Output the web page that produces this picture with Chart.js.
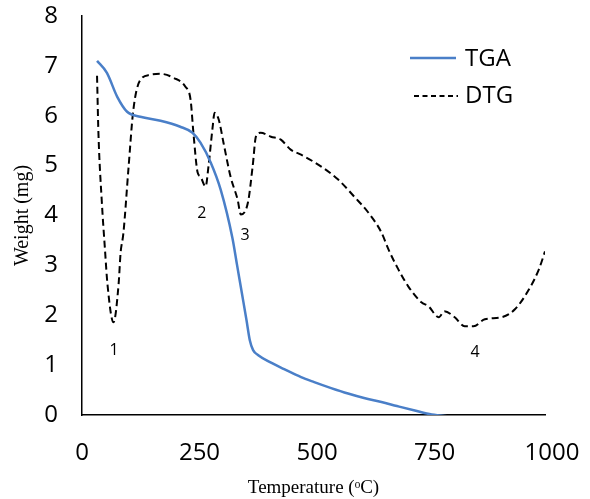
<!DOCTYPE html>
<html>
<head>
<meta charset="utf-8">
<script src="https://cdn.jsdelivr.net/npm/chart.js@4"></script>
<style>
  html, body { margin: 0; padding: 0; background: #fff; }
  #wrap { width: 590px; height: 499px; position: relative; }
</style>
</head>
<body>
<div id="wrap"><canvas id="myChart" width="590" height="499"></canvas></div>
<script>
// TGA curve (temperature in °C, weight in mg)
const tgaTemps   = [32, 53, 75, 96, 124, 167, 209, 235, 252, 274, 295, 320, 330, 340, 350, 357, 364, 375, 400, 430, 466, 494, 530, 566, 600, 637, 670, 708, 744, 786];
const tgaWeights = [7.1, 6.86, 6.38, 6.08, 5.98, 5.9, 5.78, 5.66, 5.46, 5.06, 4.52, 3.55, 3.0, 2.45, 1.9, 1.5, 1.3, 1.2, 1.06, 0.92, 0.76, 0.66, 0.54, 0.43, 0.34, 0.26, 0.18, 0.09, 0.01, -0.03];

// DTG curve
const dtgTemps  = [32, 35, 42, 49, 54, 67, 78, 82, 88, 99, 109, 123, 145, 167, 195, 220, 231, 237, 246, 252, 263, 269, 278, 282, 291, 301, 316, 331, 338, 353, 363, 370, 380, 402, 423, 444, 466, 509, 545, 579, 609, 637, 652, 673, 694, 722, 737, 759, 771, 793, 814, 833, 857, 893, 921, 951, 972, 985];
const dtgValues = [6.8, 5.64, 4.3, 3.3, 2.64, 1.86, 2.64, 3.24, 3.64, 4.96, 6.1, 6.7, 6.82, 6.84, 6.76, 6.58, 6.32, 5.66, 4.86, 4.78, 4.58, 4.98, 5.78, 6.06, 5.92, 5.46, 4.78, 4.32, 4.02, 4.26, 4.98, 5.58, 5.66, 5.58, 5.52, 5.32, 5.22, 4.98, 4.72, 4.38, 4.06, 3.66, 3.32, 2.92, 2.58, 2.26, 2.18, 1.96, 2.08, 1.96, 1.78, 1.78, 1.92, 1.96, 2.12, 2.52, 2.92, 3.28];

// peak numbers written on the plot
const peakLabels  = ['1', '2', '3', '4'];
const peakTemps   = [68, 255, 347, 836];
const peakWeights = [1.3, 4.04, 3.6, 1.26];

// the drawn axis stops a little short of the last tick label
const xMax = 985;
const xTicks = [0, 250, 500, 750, 1000];
const yTicks = [0, 1, 2, 3, 4, 5, 6, 7, 8];

const TGA_COLOR = '#4a7fc8';
const TICK_FONT = "'Open Sans', sans-serif";
const TITLE_FONT = "'Liberation Serif', 'Times New Roman', serif";

function toPoints(xs, ys) {
    return xs.map((x, i) => ({ x: x, y: ys[i] }));
}

const labelsPlugin = {
    id: 'peakLabelsAndLegend',
    afterDraw(chart) {
        const ctx = chart.ctx;
        const xs = chart.scales.x;
        const ys = chart.scales.y;
        ctx.save();
        // peak numbers
        ctx.fillStyle = '#000';
        ctx.font = "16px " + TICK_FONT;
        ctx.textAlign = 'center';
        ctx.textBaseline = 'middle';
        peakLabels.forEach((lab, i) => {
            ctx.fillText(lab, xs.getPixelForValue(peakTemps[i]), ys.getPixelForValue(peakWeights[i]));
        });

        // legend
        ctx.lineWidth = 2.5;
        ctx.strokeStyle = TGA_COLOR;
        ctx.beginPath();
        ctx.moveTo(410, 58);
        ctx.lineTo(456, 58);
        ctx.stroke();

        ctx.lineWidth = 2;
        ctx.strokeStyle = '#000';
        ctx.setLineDash([5, 3.5]);
        ctx.beginPath();
        ctx.moveTo(414, 96);
        ctx.lineTo(458, 96);
        ctx.stroke();
        ctx.setLineDash([]);

        ctx.font = "24px " + TICK_FONT;
        ctx.textAlign = 'left';
        ctx.fillText(chart.data.datasets[0].label, 465, 59);
        ctx.fillText(chart.data.datasets[1].label, 465, 96);
        ctx.restore();
    }
};

const ctx = document.getElementById('myChart').getContext('2d');
const myChart = new Chart(ctx, {
    type: 'line',
    data: {
        datasets: [{
            label: 'TGA',
            data: toPoints(tgaTemps, tgaWeights),
            borderColor: TGA_COLOR,
            borderWidth: 2.5,
            pointRadius: 0,
            cubicInterpolationMode: 'monotone',
            fill: false
        }, {
            label: 'DTG',
            data: toPoints(dtgTemps, dtgValues),
            borderColor: '#000',
            borderWidth: 2,
            borderDash: [7, 4],
            pointRadius: 0,
            cubicInterpolationMode: 'monotone',
            fill: false
        }]
    },
    options: {
        responsive: false,
        animation: false,
        layout: { padding: { left: 0, right: 45, top: 16, bottom: 0 } },
        plugins: {
            legend: { display: false },
            tooltip: { enabled: false }
        },
        scales: {
            x: {
                type: 'linear',
                min: 0,
                max: xMax,
                afterBuildTicks: function(scale) {
                    scale.ticks = xTicks.map(v => ({ value: v }));
                },
                afterFit: function(scale) { scale.height = 84; },
                // invisible tick marks only push the labels away from the axis
                grid: { display: false, drawTicks: true, tickLength: 24 },
                border: { display: true, color: '#000', width: 1.5 },
                ticks: {
                    padding: 0,
                    color: '#000',
                    font: { family: TICK_FONT, size: 24 },
                    callback: v => String(v)
                },
                title: {
                    display: true,
                    text: 'Temperature (ᵒC)',
                    color: '#000',
                    font: { family: TITLE_FONT, size: 19 },
                    padding: 0
                }
            },
            y: {
                min: 0,
                max: 8,
                afterBuildTicks: function(scale) {
                    scale.ticks = yTicks.map(v => ({ value: v }));
                },
                afterFit: function(scale) { scale.width = 82; },
                grid: { display: false, drawTicks: true, tickLength: 24 },
                border: { display: true, color: '#000', width: 1.5 },
                ticks: {
                    padding: 0,
                    color: '#000',
                    font: { family: TICK_FONT, size: 24 }
                },
                title: {
                    display: true,
                    text: 'Weight (mg)',
                    color: '#000',
                    font: { family: TITLE_FONT, size: 20 },
                    padding: { top: 11, bottom: 0 }
                }
            }
        }
    },
    plugins: [labelsPlugin]
});
</script>
</body>
</html>
